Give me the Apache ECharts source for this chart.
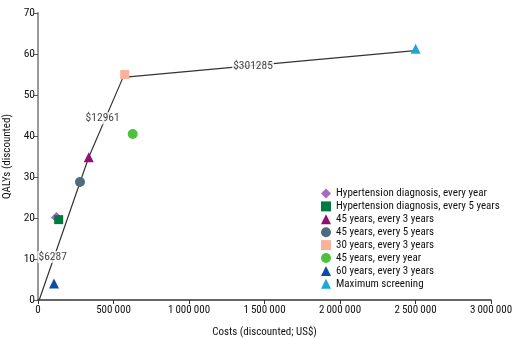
<!DOCTYPE html>
<html><head><meta charset="utf-8">
<script src="https://cdn.jsdelivr.net/npm/echarts@6/dist/echarts.min.js"></script>
<style>html,body{margin:0;padding:0;background:#fff}#c{width:513px;height:339px}</style>
</head><body><div id="c"></div>
<script>
// Strategy points: [cost (US$), QALYs]
const strategyNames = ["Hypertension diagnosis, every year","Hypertension diagnosis, every 5 years","45 years, every 3 years","45 years, every 5 years","30 years, every 3 years","45 years, every year","60 years, every 3 years","Maximum screening"];
const strategyCosts = [122000, 137000, 336000, 278000, 574000, 627000, 106000, 2501000];
const strategyQalys = [20.1, 19.6, 34.8, 28.8, 55.0, 40.5, 4.0, 61.3];
const strategySymbols = ["diamond","rect","triangle","circle","rect","circle","triangle","triangle"];
const strategyColors = ["#A46CC0","#007A3E","#930F6F","#4D6D7C","#F8B39A","#4CC13B","#0C4DA2","#1AA9D6"];
// Efficiency frontier
const frontierCosts = [8000, 336000, 563000, 2496000];
const frontierQalys = [0, 34.8, 54.3, 60.8];
// ICER labels and their anchor positions (data coords)
const icerTexts = ["$6287","$12961","$301285"];
const icerCosts = [97000, 428000, 1424000];
const icerQalys = [10.5, 44.3, 57.0];
const xTicks = [0, 500000, 1000000, 1500000, 2000000, 2500000, 3000000];
const yTicks = [0, 10, 20, 30, 40, 50, 60, 70];

const FONT = '"Roboto Condensed","Open Sans",sans-serif';
const fmt = v => String(v).replace(/\B(?=(\d{3})+(?!\d))/g, '\u2009');

const series = [];
series.push({
  type: 'line', name: 'frontier', silent: true, symbol: 'none',
  data: frontierCosts.map((c, i) => [c, frontierQalys[i]]),
  lineStyle: { color: '#333', width: 1.2 }, z: 1
});
series.push({
  type: 'scatter', name: 'icer', silent: true, symbolSize: 0, z: 3,
  data: icerCosts.map((c, i) => ({ value: [c, icerQalys[i]], label: { formatter: icerTexts[i] } })),
  label: { show: true, position: 'inside', color: '#111', fontSize: 11.5, fontFamily: FONT,
           backgroundColor: '#fff', padding: [0, 1] }
});
strategyNames.forEach((n, i) => {
  series.push({
    type: 'scatter', name: n, symbol: strategySymbols[i],
    symbolSize: strategySymbols[i] === 'diamond' ? 11 : (strategySymbols[i] === 'rect' ? 9 : 10),
    itemStyle: { color: strategyColors[i], opacity: 1 }, z: 4,
    data: [[strategyCosts[i], strategyQalys[i]]]
  });
});

const chart = echarts.init(document.getElementById('c'), null, { renderer: 'canvas' });
chart.setOption({
  animation: false,
  textStyle: { fontFamily: FONT },
  grid: { left: 38, right: 22, top: 13, bottom: 39, containLabel: false, outerBoundsMode: 'none' },
  legend: {
    data: strategyNames, orient: 'vertical', left: 316, top: 183,
    itemWidth: 10, itemHeight: 10, itemGap: 1.9,
    textStyle: { fontSize: 11, color: '#111', fontFamily: FONT }
  },
  xAxis: {
    type: 'value', min: 0, max: 3000000, interval: 500000,
    name: 'Costs (discounted; US$)', nameLocation: 'middle', nameGap: 27,
    nameTextStyle: { fontSize: 11, color: '#111', fontFamily: FONT },
    axisLine: { lineStyle: { color: '#333', width: 1.5 } },
    axisTick: { show: true, length: 4, lineStyle: { color: '#333' } },
    axisLabel: { fontSize: 11, color: '#111', margin: 5, formatter: v => fmt(v) },
    splitLine: { show: false }
  },
  yAxis: {
    type: 'value', min: 0, max: 70, interval: 10,
    name: 'QALYs (discounted)', nameLocation: 'middle', nameGap: 18,
    nameTextStyle: { fontSize: 11, color: '#111', fontFamily: FONT },
    axisLine: { show: true, lineStyle: { color: '#999', width: 2 } },
    axisTick: { show: true, length: 4, lineStyle: { color: '#555' } },
    axisLabel: { fontSize: 11.5, color: '#111', margin: 3 },
    splitLine: { show: false }
  },
  series: series
});
</script></body></html>
